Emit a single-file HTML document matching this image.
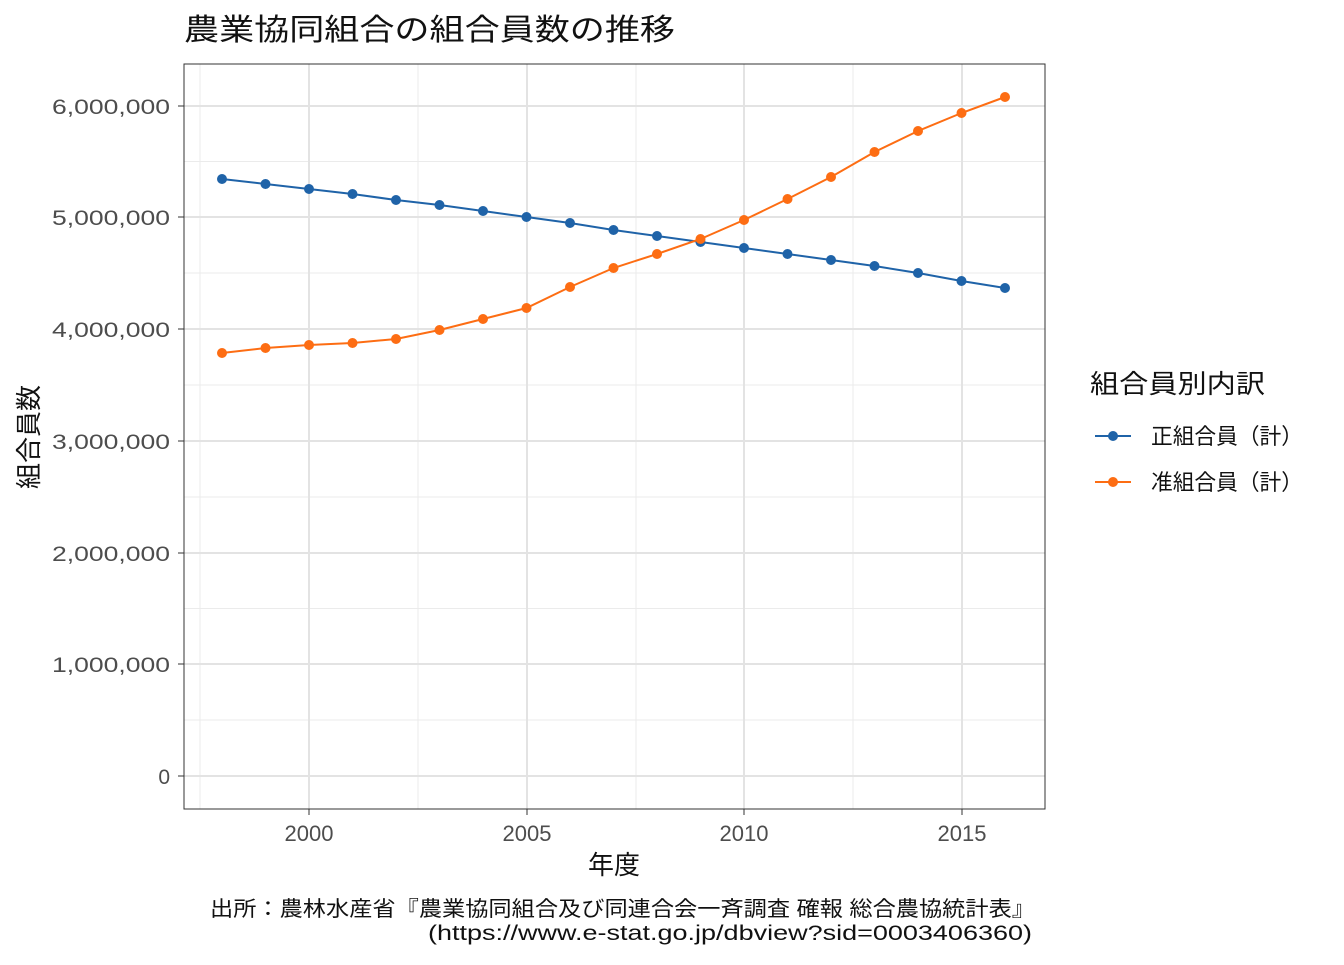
<!DOCTYPE html>
<html><head><meta charset="utf-8"><style>
body{margin:0;background:#fff}
text{font-family:"Liberation Sans","Noto Sans CJK JP",sans-serif}
</style></head><body>
<svg width="1344" height="960" xmlns="http://www.w3.org/2000/svg">
<rect width="1344" height="960" fill="#fff"/>
<text x="184" y="40" font-size="30" fill="#111" textLength="491" lengthAdjust="spacingAndGlyphs">農業協同組合の組合員数の推移</text>
<g stroke="#ebebeb" stroke-width="1">
<line x1="184" x2="1045" y1="720" y2="720"/><line x1="184" x2="1045" y1="608.5" y2="608.5"/>
<line x1="184" x2="1045" y1="497" y2="497"/><line x1="184" x2="1045" y1="385" y2="385"/>
<line x1="184" x2="1045" y1="273" y2="273"/><line x1="184" x2="1045" y1="161.5" y2="161.5"/>
<line y1="64" y2="809" x1="200" x2="200"/><line y1="64" y2="809" x1="418" x2="418"/>
<line y1="64" y2="809" x1="636" x2="636"/><line y1="64" y2="809" x1="853" x2="853"/>
</g>
<g stroke="#e3e3e3" stroke-width="2">
<line x1="184" x2="1045" y1="776" y2="776"/><line x1="184" x2="1045" y1="664" y2="664"/>
<line x1="184" x2="1045" y1="553" y2="553"/><line x1="184" x2="1045" y1="441" y2="441"/>
<line x1="184" x2="1045" y1="329" y2="329"/><line x1="184" x2="1045" y1="217" y2="217"/>
<line x1="184" x2="1045" y1="106" y2="106"/>
<line y1="64" y2="809" x1="309" x2="309"/><line y1="64" y2="809" x1="527" x2="527"/>
<line y1="64" y2="809" x1="744" x2="744"/><line y1="64" y2="809" x1="962" x2="962"/>
</g>
<rect x="184" y="64" width="861" height="745" fill="none" stroke="#333" stroke-width="1"/>
<g font-size="21" fill="#4d4d4d" text-anchor="end">
<text x="170" y="784">0</text>
<text x="170" y="672" textLength="118" lengthAdjust="spacingAndGlyphs">1,000,000</text>
<text x="170" y="561" textLength="118" lengthAdjust="spacingAndGlyphs">2,000,000</text>
<text x="170" y="449" textLength="118" lengthAdjust="spacingAndGlyphs">3,000,000</text>
<text x="170" y="337" textLength="118" lengthAdjust="spacingAndGlyphs">4,000,000</text>
<text x="170" y="225" textLength="118" lengthAdjust="spacingAndGlyphs">5,000,000</text>
<text x="170" y="114" textLength="118" lengthAdjust="spacingAndGlyphs">6,000,000</text>
</g>
<g stroke="#333"><line x1="178" x2="184" y1="776" y2="776"/><line x1="178" x2="184" y1="664" y2="664"/><line x1="178" x2="184" y1="553" y2="553"/><line x1="178" x2="184" y1="441" y2="441"/><line x1="178" x2="184" y1="329" y2="329"/><line x1="178" x2="184" y1="217" y2="217"/><line x1="178" x2="184" y1="106" y2="106"/>
<line y1="809" y2="815" x1="309" x2="309"/><line y1="809" y2="815" x1="527" x2="527"/><line y1="809" y2="815" x1="744" x2="744"/><line y1="809" y2="815" x1="962" x2="962"/></g>
<g font-size="22" fill="#4d4d4d" text-anchor="middle">
<text x="309" y="841">2000</text><text x="527" y="841">2005</text><text x="744" y="841">2010</text><text x="962" y="841">2015</text>
</g>
<text x="614" y="874" font-size="26" text-anchor="middle" fill="#111">年度</text>
<text transform="translate(38,437) rotate(-90)" font-size="26" text-anchor="middle" fill="#111">組合員数</text>
<polyline fill="none" stroke="#1f63a8" stroke-width="2" points="222,179 265.5,184 309,189 352.5,194 396,200 439.5,205 483,211 526.5,217 570,223 613.5,230 657,236 700.5,242 744,248 787.5,254 831,260 874.5,266 918,273 961.5,281 1005,288"/>
<g fill="#1f63a8"><circle cx="222" cy="179" r="5"/><circle cx="265.5" cy="184" r="5"/><circle cx="309" cy="189" r="5"/><circle cx="352.5" cy="194" r="5"/><circle cx="396" cy="200" r="5"/><circle cx="439.5" cy="205" r="5"/><circle cx="483" cy="211" r="5"/><circle cx="526.5" cy="217" r="5"/><circle cx="570" cy="223" r="5"/><circle cx="613.5" cy="230" r="5"/><circle cx="657" cy="236" r="5"/><circle cx="700.5" cy="242" r="5"/><circle cx="744" cy="248" r="5"/><circle cx="787.5" cy="254" r="5"/><circle cx="831" cy="260" r="5"/><circle cx="874.5" cy="266" r="5"/><circle cx="918" cy="273" r="5"/><circle cx="961.5" cy="281" r="5"/><circle cx="1005" cy="288" r="5"/></g>
<polyline fill="none" stroke="#fd6d13" stroke-width="2" points="222,353 265.5,348 309,345 352.5,343 396,339 439.5,330 483,319 526.5,308 570,287 613.5,268 657,254 700.5,239 744,220 787.5,199 831,177 874.5,152 918,131 961.5,113 1005,97"/>
<g fill="#fd6d13"><circle cx="222" cy="353" r="5"/><circle cx="265.5" cy="348" r="5"/><circle cx="309" cy="345" r="5"/><circle cx="352.5" cy="343" r="5"/><circle cx="396" cy="339" r="5"/><circle cx="439.5" cy="330" r="5"/><circle cx="483" cy="319" r="5"/><circle cx="526.5" cy="308" r="5"/><circle cx="570" cy="287" r="5"/><circle cx="613.5" cy="268" r="5"/><circle cx="657" cy="254" r="5"/><circle cx="700.5" cy="239" r="5"/><circle cx="744" cy="220" r="5"/><circle cx="787.5" cy="199" r="5"/><circle cx="831" cy="177" r="5"/><circle cx="874.5" cy="152" r="5"/><circle cx="918" cy="131" r="5"/><circle cx="961.5" cy="113" r="5"/><circle cx="1005" cy="97" r="5"/></g>
<text x="1090" y="393" font-size="26" fill="#111" textLength="175" lengthAdjust="spacingAndGlyphs">組合員別内訳</text>
<line x1="1095" x2="1131" y1="436" y2="436" stroke="#1f63a8" stroke-width="2"/><circle cx="1113" cy="436" r="5" fill="#1f63a8"/>
<text x="1151" y="444" font-size="22" fill="#111" textLength="152" lengthAdjust="spacingAndGlyphs">正組合員（計）</text>
<line x1="1095" x2="1131" y1="482" y2="482" stroke="#fd6d13" stroke-width="2"/><circle cx="1113" cy="482" r="5" fill="#fd6d13"/>
<text x="1151" y="490" font-size="22" fill="#111" textLength="152" lengthAdjust="spacingAndGlyphs">准組合員（計）</text>
<text x="210" y="916" font-size="21" fill="#111" textLength="825" lengthAdjust="spacingAndGlyphs">出所：農林水産省『農業協同組合及び同連合会一斉調査 確報 総合農協統計表』</text>
<text x="428" y="940" font-size="21" fill="#111" textLength="604" lengthAdjust="spacingAndGlyphs">(https://www.e-stat.go.jp/dbview?sid=0003406360)</text>
</svg>
</body></html>
